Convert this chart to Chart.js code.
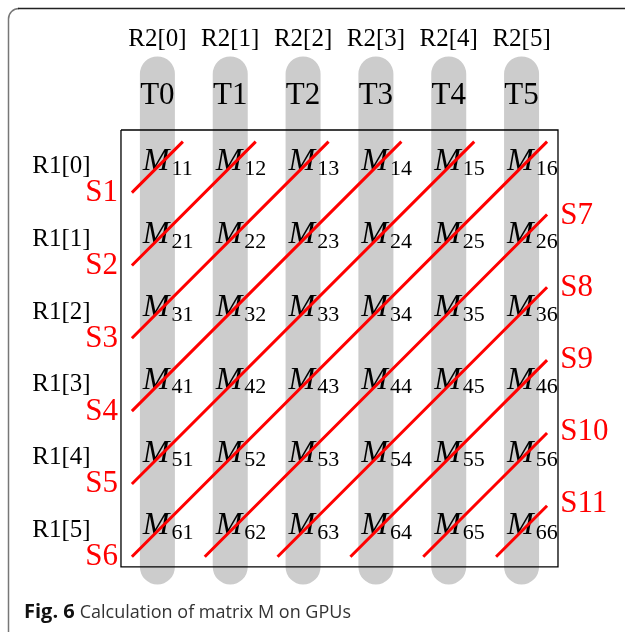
<!DOCTYPE html>
<html>
<head>
<meta charset="utf-8">
<script src="https://cdn.jsdelivr.net/npm/chart.js@4.4.1/dist/chart.umd.min.js"></script>
<style>
  html, body { margin: 0; padding: 0; background: #fff; }
  #wrap { width: 625px; height: 632px; }
</style>
</head>
<body>
<div id="wrap"><canvas id="chart1" width="625" height="632"></canvas></div>
<script>
// labels of the diagram
const colLabels = ['R2[0]', 'R2[1]', 'R2[2]', 'R2[3]', 'R2[4]', 'R2[5]'];
const threadLabels = ['T0', 'T1', 'T2', 'T3', 'T4', 'T5'];
const rowLabels = ['R1[0]', 'R1[1]', 'R1[2]', 'R1[3]', 'R1[4]', 'R1[5]'];
const stripeLabels = ['S1', 'S2', 'S3', 'S4', 'S5', 'S6', 'S7', 'S8', 'S9', 'S10', 'S11'];

// grid units: the matrix box spans 0..6 on both axes (y goes down)
const threadTop = -0.77;
const threadBottom = 6.0;
const stripeStarts = [
  [0.15, 0.86], [0.15, 1.86], [0.15, 2.86], [0.15, 3.86], [0.15, 4.86], [0.15, 5.86],
  [1.15, 5.86], [2.15, 5.86], [3.15, 5.86], [4.15, 5.86], [5.15, 5.86]
];
const stripeEnds = [
  [0.85, 0.16], [1.85, 0.16], [2.85, 0.16], [3.85, 0.16], [4.85, 0.16], [5.85, 0.16],
  [5.85, 1.16], [5.85, 2.16], [5.85, 3.16], [5.85, 4.16], [5.85, 5.16]
];
// where the S labels sit (left ones right-aligned, right ones left-aligned)
const stripeLabelPos = [
  [-0.04, 0.865], [-0.04, 1.865], [-0.04, 2.865], [-0.04, 3.865], [-0.04, 4.865], [-0.04, 5.865],
  [6.03, 1.18], [6.03, 2.17], [6.03, 3.16], [6.03, 4.15], [6.03, 5.135]
];

const datasets = [];

// gray thread columns
threadLabels.forEach((t, j) => {
  datasets.push({
    label: t,
    data: [{ x: j + 0.5, y: threadTop }, { x: j + 0.5, y: threadBottom }],
    showLine: true,
    borderColor: '#cccccc',
    borderWidth: 35,
    borderCapStyle: 'round',
    pointRadius: 0,
    order: 3
  });
});

// matrix box
datasets.push({
  label: 'box',
  data: [{ x: 0, y: 0 }, { x: 6, y: 0 }, { x: 6, y: 6 }, { x: 0, y: 6 }, { x: 0, y: 0 }],
  showLine: true,
  borderColor: '#000',
  borderWidth: 1.3,
  pointRadius: 0,
  order: 2
});

// red stripes
stripeLabels.forEach((s, k) => {
  datasets.push({
    label: s,
    data: [
      { x: stripeStarts[k][0], y: stripeStarts[k][1] },
      { x: stripeEnds[k][0], y: stripeEnds[k][1] }
    ],
    showLine: true,
    borderColor: '#ff0000',
    borderWidth: 3,
    pointRadius: 0,
    order: 1
  });
});

const SERIF = '"Liberation Serif", "Times New Roman", serif';

// frame and white background
const framePlugin = {
  id: 'frame',
  beforeDraw(chart) {
    const c = chart.ctx;
    c.save();
    c.fillStyle = '#fff';
    c.fillRect(0, 0, chart.width, chart.height);
    c.lineWidth = 1.5;
    c.strokeStyle = '#777';
    c.beginPath();
    c.moveTo(8.5, chart.height);
    c.lineTo(8.5, 19);
    c.arcTo(8.5, 8.5, 19, 8.5, 10.5);
    c.stroke();
    c.strokeStyle = '#222';
    c.beginPath();
    c.moveTo(18, 8.5);
    c.lineTo(chart.width, 8.5);
    c.stroke();
    c.restore();
  }
};

// text labels, drawn after the box so the red stripes end up on top
const textPlugin = {
  id: 'texts',
  afterDatasetDraw(chart, args) {
    if (chart.data.datasets[args.index].label !== 'box') return;
    const c = chart.ctx;
    const xs = chart.scales.x, ys = chart.scales.y;
    const px = v => xs.getPixelForValue(v);
    const py = v => ys.getPixelForValue(v);
    c.save();
    c.fillStyle = '#000';
    c.textBaseline = 'middle';
    c.textAlign = 'center';

    c.font = '25px ' + SERIF;
    colLabels.forEach((t, j) => c.fillText(t, px(j + 0.5), py(-1.25)));
    rowLabels.forEach((t, i) => c.fillText(t, px(-0.817), py(i + 0.5)));

    c.font = '31px ' + SERIF;
    threadLabels.forEach((t, j) => c.fillText(t, px(j + 0.5), py(-0.467)));

    // M_ij cells
    c.textBaseline = 'alphabetic';
    c.textAlign = 'left';
    for (let i = 0; i < 6; i++) {
      for (let j = 0; j < 6; j++) {
        const x0 = px(j + 0.3);
        c.font = 'italic 32px ' + SERIF;
        c.fillText('M', x0, py(i + 0.553));
        const w = c.measureText('M').width;
        c.font = '22px ' + SERIF;
        c.fillText('' + (i + 1) + (j + 1), x0 + w + 2, py(i + 0.618));
      }
    }

    // stripe labels
    c.fillStyle = '#ff0000';
    c.font = '31px ' + SERIF;
    c.textBaseline = 'middle';
    stripeLabels.forEach((s, k) => {
      c.textAlign = k < 6 ? 'right' : 'left';
      c.fillText(s, px(stripeLabelPos[k][0]), py(stripeLabelPos[k][1]));
    });
    c.restore();
  },
  afterDraw(chart) {
    const c = chart.ctx;
    c.save();
    c.textBaseline = 'alphabetic';
    c.textAlign = 'left';
    c.fillStyle = '#111';
    c.font = 'bold 20px "Open Sans", sans-serif';
    const bold = 'Fig. 6';
    c.fillText(bold, 24, 618);
    const bw = c.measureText(bold).width;
    c.fillStyle = '#333';
    c.font = '18px "Open Sans", sans-serif';
    c.fillText('Calculation of matrix M on GPUs', 24 + bw + 5, 618);
    c.restore();
  }
};

new Chart(document.getElementById('chart1'), {
  type: 'scatter',
  data: { datasets: datasets },
  options: {
    responsive: false,
    animation: false,
    layout: { padding: 0 },
    plugins: { legend: { display: false }, tooltip: { enabled: false } },
    scales: {
      x: { type: 'linear', display: false, min: -1.661, max: 6.920 },
      y: { type: 'linear', display: false, reverse: true, min: -1.785, max: 6.893 }
    }
  },
  plugins: [framePlugin, textPlugin]
});
</script>
</body>
</html>
